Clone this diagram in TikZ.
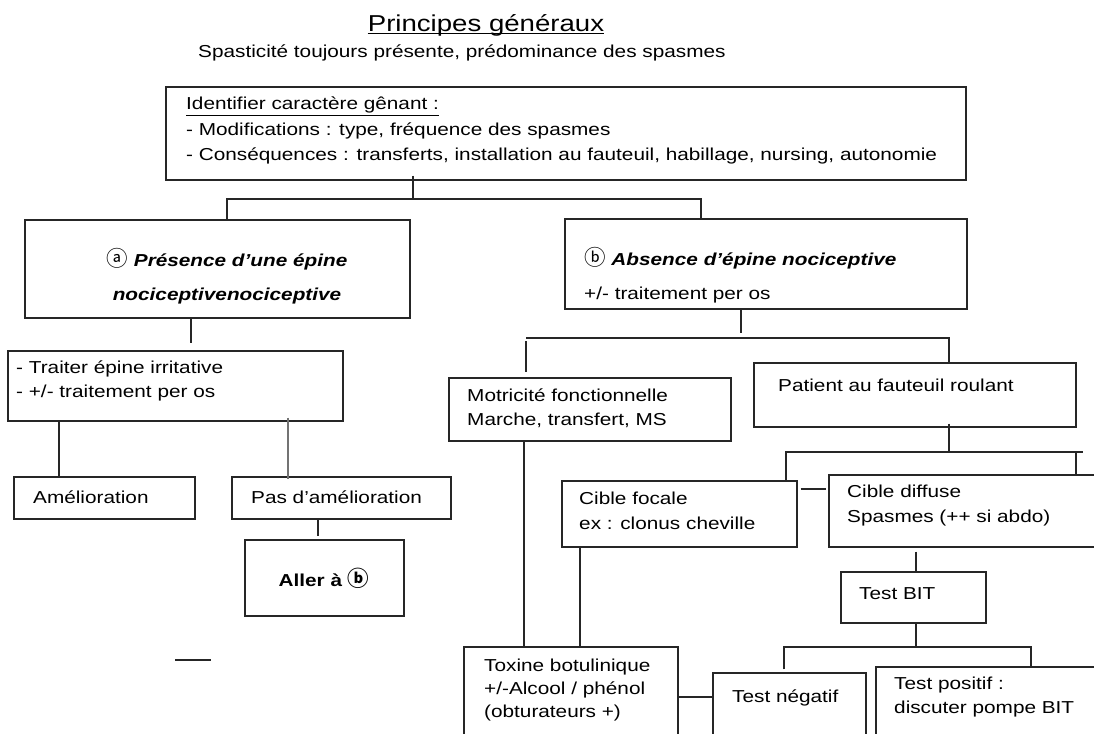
\documentclass[tikz,border=0pt]{standalone}
\usepackage{fontspec}
\setmainfont{Liberation Sans}[FakeStretch=1.2]
\newfontfamily\circfont{Noto Sans CJK JP}
\newcommand\circl[1]{{\fontsize{21.5}{24}\selectfont\circfont #1}}
\usetikzlibrary{fit}
\newcommand\fs[1]{\fontsize{17.3}{#1}\selectfont}
\begin{document}
\begin{tikzpicture}[x=1pt,y=-1pt,
  box/.style={draw=black!85, line width=1.4pt, inner sep=0pt},
  txt/.style={inner sep=0pt, anchor=north west, align=left, font=\fs{24}, execute at begin node=\strut},
  conn/.style={draw=black!85, line width=1.2pt},
]
\useasboundingbox (0,0) rectangle (1094,733);
\clip (0,0) rectangle (1094,733);

% title
\node[inner sep=0pt, anchor=base, font=\fontsize{23}{28}\selectfont] (title) at (486,32) {Principes généraux};
\draw[line width=1pt] ([yshift=-1.5pt]title.base west) -- ([yshift=-1.5pt]title.base east);
\node[txt] (sub) at (198,41) {Spasticité toujours présente, prédominance des spasmes};

% boxes
\node[box, fit={(166,87) (966,180)}] (top) {};
\node[box, fit={(25,220) (410,318)}] (a) {};
\node[box, fit={(565,219) (967,309)}] (b) {};
\node[box, fit={(8,351) (343,421)}] (traiter) {};
\node[box, fit={(14,477) (195,519)}] (amel) {};
\node[box, fit={(232,477) (451,519)}] (pas) {};
\node[box, fit={(245,540) (404,616)}] (aller) {};
\node[box, fit={(449,378) (731,441)}] (motr) {};
\node[box, fit={(754,363) (1076,427)}] (patient) {};
\node[box, fit={(562,481) (797,547)}] (focale) {};
\node[box, fit={(829,475) (1110,547)}] (diffuse) {};
\node[box, fit={(841,572) (986,623)}] (bit) {};
\node[box, fit={(464,647) (678,760)}] (toxine) {};
\node[box, fit={(713,673) (866,760)}] (negatif) {};
\node[box, fit={(876,667) (1110,760)}] (positif) {};

% texts
\node[txt, font=\fs{25.5}] (ttop) at (186,97) {\underline{Identifier caractère gênant :}\\- Modifications : type, fréquence des spasmes\\- Conséquences : transferts, installation au fauteuil, habillage, nursing, autonomie};
\node[txt, anchor=north, align=center, font=\fs{24}\bfseries\itshape] (ta) at (227,248) {{\normalfont\circl{ⓐ}}\ Présence d’une épine\\[10pt]nociceptivenociceptive};
\node[txt] (tb) at (584,247) {\circl{ⓑ}\ \textbf{\textit{Absence d’épine nociceptive}}\\[10pt]+/- traitement per os};
\node[txt] (ttraiter) at (16,361) {- Traiter épine irritative\\- +/- traitement per os};
\node[txt] (tamel) at (33,486) {Amélioration};
\node[txt] (tpas) at (251,486) {Pas d’amélioration};
\node[inner sep=0pt, font=\fs{24}\bfseries] (taller) at (324,578) {Aller à \circl{ⓑ}};
\node[txt] (tmotr) at (467,389) {Motricité fonctionnelle\\Marche, transfert, MS};
\node[txt] (tpatient) at (778,374) {Patient au fauteuil roulant};
\node[txt, font=\fs{25}] (tfocale) at (579,492) {Cible focale\\ex : clonus cheville};
\node[txt, font=\fs{25}] (tdiffuse) at (847,485) {Cible diffuse\\Spasmes (++ si abdo)};
\node[txt] (tbit) at (859,582) {Test BIT};
\node[txt, font=\fs{23}] (ttoxine) at (484,659) {Toxine botulinique\\+/-Alcool / phénol\\(obturateurs +)};
\node[txt] (tneg) at (732,685) {Test négatif};
\node[txt] (tpos) at (894,677) {Test positif :\\discuter pompe BIT};

% connectors
\coordinate (j1) at (413,199);
\coordinate (j1L) at (227,199);
\coordinate (j1R) at (701,199);
\draw[conn] ([yshift=5pt]top.south -| j1) -- (j1);
\draw[conn] (a.north -| j1L) -- (j1L) -- (j1R) -- (b.north -| j1R);

\coordinate (e2) at (191,343);
\draw[conn] (a.south -| e2) -- (e2);

\coordinate (c3) at (59,477);
\draw[conn] (traiter.south -| c3) -- (amel.north -| c3);
\coordinate (c4) at (288,0);
\draw[conn, draw=black!55] ([yshift=4pt]traiter.south -| c4) -- ([yshift=-3pt]pas.north -| c4);

\coordinate (c5) at (318,536);
\draw[conn] (pas.south -| c5) -- (c5);

\coordinate (s1) at (175,660);
\coordinate (s2) at (211,660);
\draw[conn] (s1) -- (s2);

\coordinate (c6) at (741,333);
\draw[conn] (b.south -| c6) -- (c6);
\coordinate (j2L) at (526,338);
\coordinate (j2R) at (949,338);
\draw[conn] (j2L) -- (j2R) -- (patient.north -| j2R);
\draw[conn] ([yshift=-3pt]j2L) -- ([yshift=5pt]motr.north -| j2L);

\coordinate (c7) at (524,0);
\draw[conn] (motr.south -| c7) -- (toxine.north -| c7);

\coordinate (j3) at (949,452);
\coordinate (j3L) at (786,452);
\coordinate (j3R) at (1083,452);
\coordinate (j3d) at (1076,452);
\draw[conn] ([yshift=4pt]patient.south -| j3) -- (j3);
\draw[conn] (focale.north -| j3L) -- (j3L) -- (j3R);
\draw[conn] (j3d) -- (diffuse.north -| j3d);

\coordinate (c8) at (0,489);
\draw[conn] ([xshift=3pt]focale.east |- c8) -- ([xshift=-2pt]diffuse.west |- c8);

\coordinate (c9) at (916,0);
\draw[conn] ([yshift=-4pt]diffuse.south -| c9) -- (bit.north -| c9);

\coordinate (c10) at (580,0);
\draw[conn] (focale.south -| c10) -- (toxine.north -| c10);

\coordinate (j4) at (916,647);
\coordinate (j4L) at (784,647);
\coordinate (j4R) at (1031,647);
\draw[conn] (bit.south -| j4) -- (j4);
\draw[conn] ([yshift=3pt]negatif.north -| j4L) -- (j4L) -- (j4R) -- (positif.north -| j4R);

\coordinate (c11) at (0,697);
\draw[conn] (toxine.east |- c11) -- (negatif.west |- c11);
\end{tikzpicture}
\end{document}
